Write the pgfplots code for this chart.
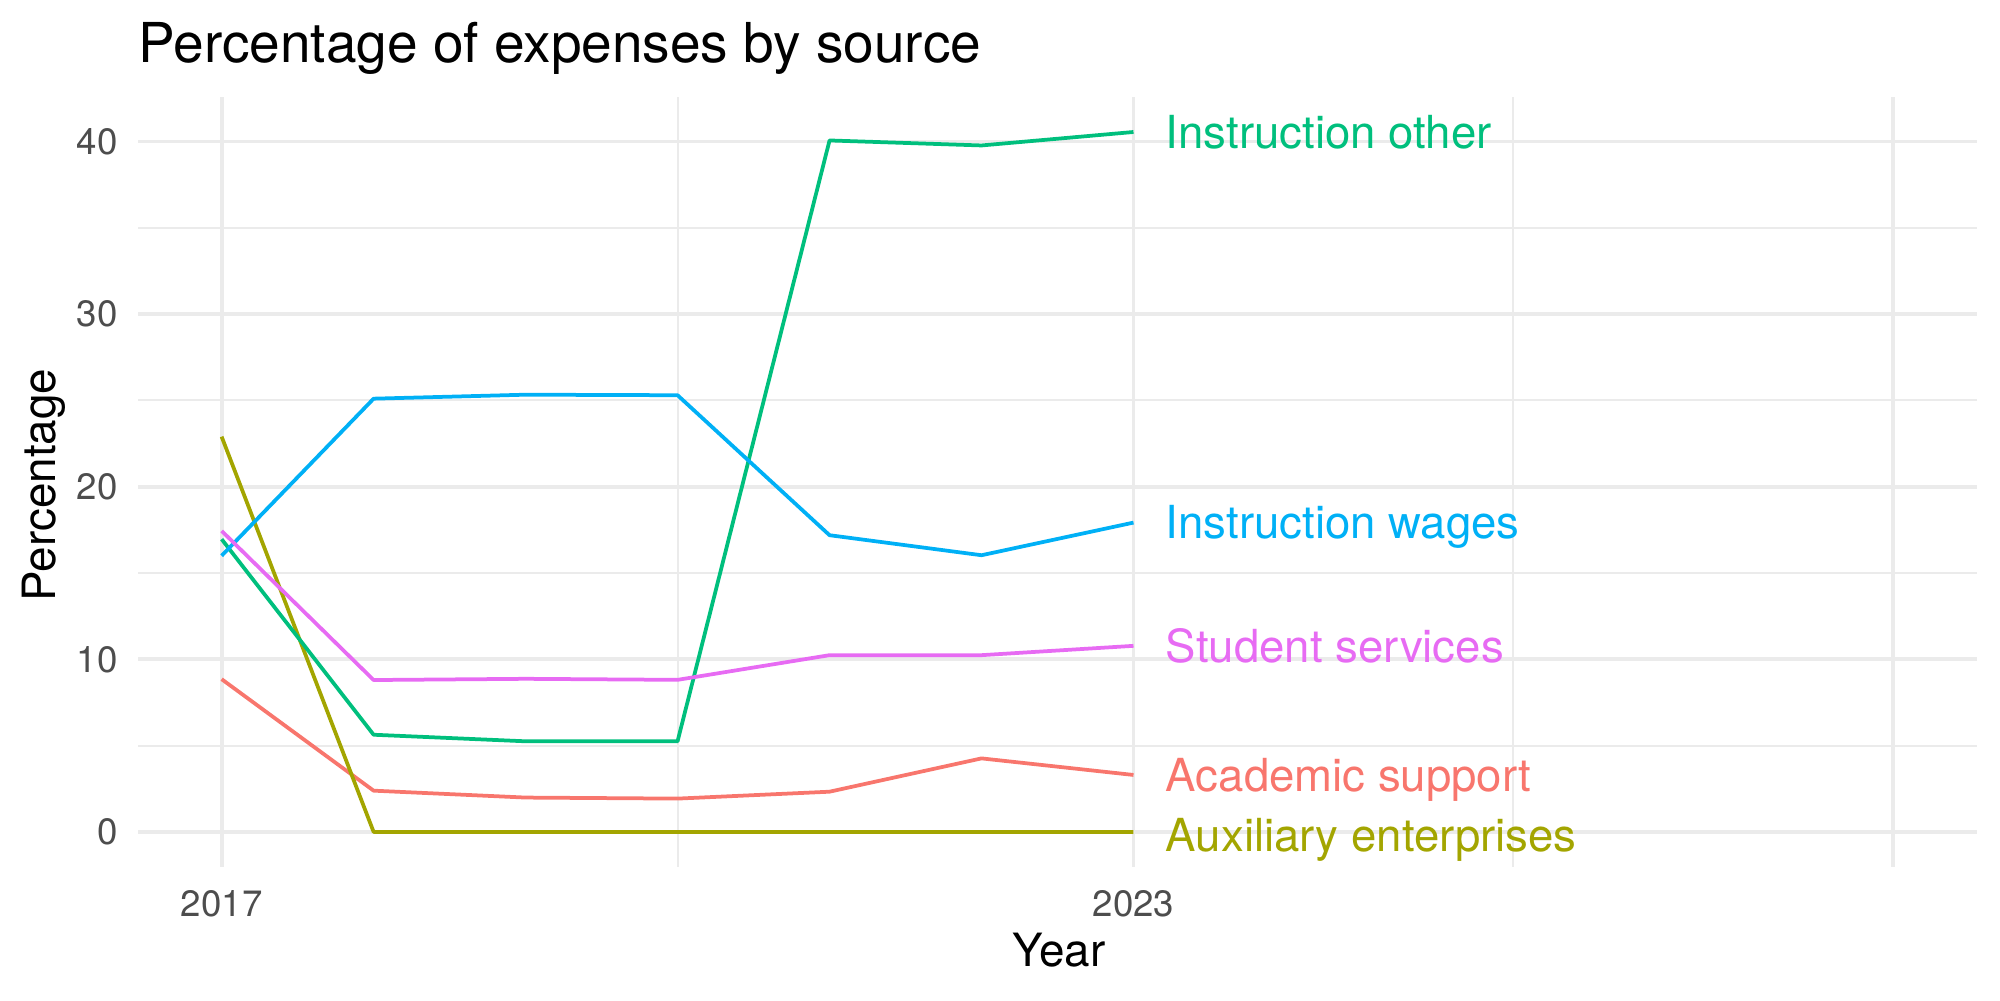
\documentclass[border=0pt]{standalone}
\usepackage{pgfplots}
\pgfplotsset{compat=1.18}
\usepackage{fontspec}
\setmainfont{TeX Gyre Heros}

\definecolor{acad}{HTML}{F8766D}
\definecolor{aux}{HTML}{A3A500}
\definecolor{instother}{HTML}{00BF7D}
\definecolor{instwages}{HTML}{00B0F6}
\definecolor{student}{HTML}{E76BF3}
\definecolor{gridgray}{HTML}{EBEBEB}
\definecolor{tickgray}{HTML}{4D4D4D}

% end-of-line names: capitals centred on the last value
\tikzset{serieslabel/.style={anchor=west, inner sep=0pt, text height=11.8pt, text depth=0pt,
  font=\fontsize{16.4}{19}\selectfont}}

\begin{document}
\begin{tikzpicture}
% page frame: panel origin at (0,0), panel 662pt x 277.2pt
\useasboundingbox (-49.7pt,-47.9pt) rectangle (670.3pt,312.1pt);
\begin{axis}[
  at={(0,0)}, anchor=south west,
  scale only axis, width=662pt, height=277.2pt,
  xmin=2016.45, xmax=2028.55, ymin=-2.03, ymax=42.58,
  axis line style={draw=none},
  major tick length=0pt, minor tick length=0pt,
  xtick={2017,2023,2028}, xticklabels={2017,2023,{}},
  minor xtick={2020,2025.5},
  ytick={0,10,20,30,40}, minor ytick={5,15,25,35},
  grid=both,
  major grid style={draw=gridgray, line width=1.4pt},
  minor grid style={draw=gridgray, line width=0.7pt},
  tick label style={font=\fontsize{13.2}{15}\selectfont, text=tickgray},
  /pgf/number format/assume math mode=true,
  yticklabel style={anchor=east, inner sep=0pt},
  xticklabel style={anchor=north, inner sep=0pt},
  yticklabel shift=7.2pt,
  xticklabel shift=8.3pt,
  scaled ticks=false,
  clip=false,
  every axis plot/.append style={line width=1.35pt, line join=round},
]
% Academic support
\addplot[acad, no markers] coordinates {
  (2017,8.85) (2018,2.39) (2019,1.99) (2020,1.93) (2021,2.33) (2022,4.26) (2023,3.30)};
% Auxiliary enterprises
\addplot[aux, no markers] coordinates {
  (2017,22.9) (2018,0) (2019,0) (2020,0) (2021,0) (2022,0) (2023,0)};
% Instruction other
\addplot[instother, no markers] coordinates {
  (2017,16.96) (2018,5.63) (2019,5.25) (2020,5.25) (2021,40.06) (2022,39.77) (2023,40.55)};
% Instruction wages
\addplot[instwages, no markers] coordinates {
  (2017,16.0) (2018,25.1) (2019,25.33) (2020,25.3) (2021,17.19) (2022,16.03) (2023,17.92)};
% Student services
\addplot[student, no markers] coordinates {
  (2017,17.44) (2018,8.80) (2019,8.87) (2020,8.81) (2021,10.24) (2022,10.24) (2023,10.78)};

% series names at the end of each line
\node[serieslabel, text=instother] at (axis cs:2023.21,40.55) {Instruction other};
\node[serieslabel, text=instwages] at (axis cs:2023.21,17.92) {Instruction wages};
\node[serieslabel, text=student]   at (axis cs:2023.21,10.78) {Student services};
\node[serieslabel, text=acad]      at (axis cs:2023.21,3.30)  {Academic support};
\node[serieslabel, text=aux, yshift=-1.3pt] at (axis cs:2023.21,0) {Auxiliary enterprises};
\end{axis}

% title and axis titles
\node[anchor=base west, inner sep=0pt, font=\fontsize{19.8}{24}\selectfont]
  at (0,289.5pt) {Percentage of expenses by source};
\node[anchor=base, inner sep=0pt, font=\fontsize{16.5}{20}\selectfont]
  at (331.5pt,-35.9pt) {Year};
\node[anchor=center, rotate=90, inner sep=0pt, font=\fontsize{16.5}{20}\selectfont]
  at (-33.9pt,137.5pt) {Percentage};
\end{tikzpicture}
\end{document}
